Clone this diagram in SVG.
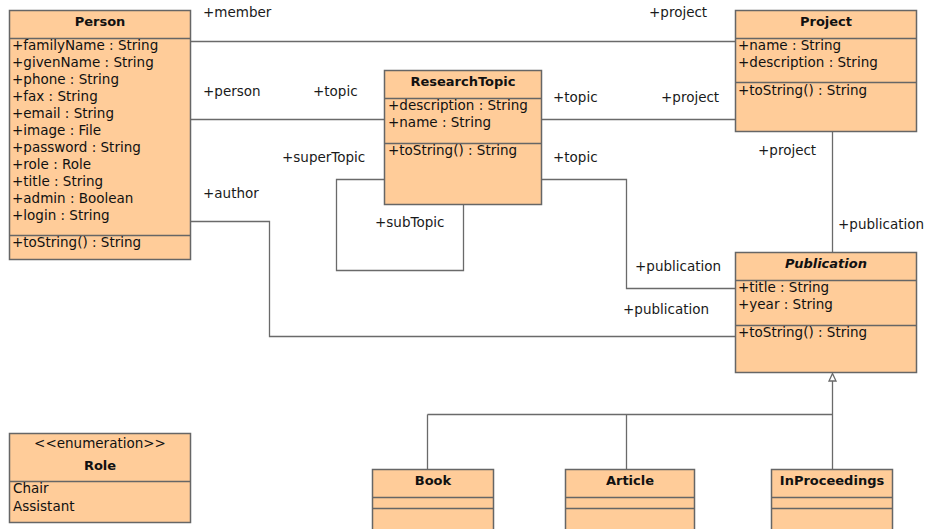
<svg xmlns="http://www.w3.org/2000/svg" width="926" height="529" viewBox="0 0 926 529">
  <style>
    .box { fill: #ffcc99; stroke: #666666; stroke-width: 1.5; }
    .sep { stroke: #666666; stroke-width: 1.5; fill: none; }
    .edge { stroke: #6a6a6a; stroke-width: 1.3; fill: none; }
    .head { fill: #ffffff; stroke: #6a6a6a; stroke-width: 1.3; }
    text { font-family: "DejaVu Sans", "Liberation Sans", sans-serif; font-size: 13.5px; fill: #111111; }
    .title { font-size: 13px; font-weight: bold; text-anchor: middle; }
    .abstract { font-style: italic; }
    .mid { text-anchor: middle; }
    .role { fill: #1a1a1a; }
  </style>

  <!-- associations and generalization -->
  <g id="connectors">
    <path class="edge" d="M191 41.5 H735"/>
    <path class="edge" d="M191 119.5 H384"/>
    <path class="edge" d="M542 119.5 H735"/>
    <path class="edge" d="M384 179.5 H336.5 V270.5 H463.5 V204"/>
    <path class="edge" d="M542 179.5 H626.5 V288.5 H735"/>
    <path class="edge" d="M191 221.5 H269.5 V336.5 H735"/>
    <path class="edge" d="M832.5 131 V252"/>
    <path class="edge" d="M832.5 381 V414.5 M427.5 414.5 H832.5 M427.5 414.5 V469 M626.5 414.5 V469 M832.5 414.5 V469"/>
    <path class="head" d="M832.5 373.5 L829 381 L836 381 Z"/>

    <text class="role" x="203" y="17">+member</text>
    <text class="role" x="649" y="17">+project</text>
    <text class="role" x="203" y="96">+person</text>
    <text class="role" x="313" y="96">+topic</text>
    <text class="role" x="553" y="102">+topic</text>
    <text class="role" x="661" y="102">+project</text>
    <text class="role" x="282" y="162">+superTopic</text>
    <text class="role" x="553" y="162">+topic</text>
    <text class="role" x="758" y="155">+project</text>
    <text class="role" x="203" y="198">+author</text>
    <text class="role" x="375" y="227">+subTopic</text>
    <text class="role" x="838" y="229">+publication</text>
    <text class="role" x="635" y="271">+publication</text>
    <text class="role" x="623" y="314">+publication</text>
  </g>

  <g id="person">
    <rect class="box" x="9.5" y="10.5" width="181" height="249"/>
    <path class="sep" d="M9.5 38.5 H190.5 M9.5 235.5 H190.5"/>
    <text class="title" x="100" y="26">Person</text>
    <text x="12" y="50">+familyName : String</text>
    <text x="12" y="67">+givenName : String</text>
    <text x="12" y="84">+phone : String</text>
    <text x="12" y="101">+fax : String</text>
    <text x="12" y="118">+email : String</text>
    <text x="12" y="135">+image : File</text>
    <text x="12" y="152">+password : String</text>
    <text x="12" y="169">+role : Role</text>
    <text x="12" y="186">+title : String</text>
    <text x="12" y="203">+admin : Boolean</text>
    <text x="12" y="220">+login : String</text>
    <text x="12" y="247">+toString() : String</text>
  </g>

  <g id="researchTopic">
    <rect class="box" x="384.5" y="70.5" width="157" height="134"/>
    <path class="sep" d="M384.5 98.5 H541.5 M384.5 143.5 H541.5"/>
    <text class="title" x="463" y="86">ResearchTopic</text>
    <text x="388" y="110">+description : String</text>
    <text x="388" y="127">+name : String</text>
    <text x="388" y="155">+toString() : String</text>
  </g>

  <g id="project">
    <rect class="box" x="735.5" y="10.5" width="181" height="121"/>
    <path class="sep" d="M735.5 38.5 H916.5 M735.5 82.5 H916.5"/>
    <text class="title" x="826" y="26">Project</text>
    <text x="738" y="50">+name : String</text>
    <text x="738" y="67">+description : String</text>
    <text x="738" y="95">+toString() : String</text>
  </g>

  <g id="publication">
    <rect class="box" x="735.5" y="252.5" width="181" height="120"/>
    <path class="sep" d="M735.5 280.5 H916.5 M735.5 325.5 H916.5"/>
    <text class="title abstract" x="826" y="268">Publication</text>
    <text x="738" y="292">+title : String</text>
    <text x="738" y="309">+year : String</text>
    <text x="738" y="337">+toString() : String</text>
  </g>

  <g id="role">
    <rect class="box" x="9.5" y="433.5" width="181" height="89"/>
    <path class="sep" d="M9.5 481.5 H190.5"/>
    <text class="mid" x="100" y="448">&lt;&lt;enumeration&gt;&gt;</text>
    <text class="title" x="100" y="470">Role</text>
    <text x="13" y="493">Chair</text>
    <text x="13" y="511">Assistant</text>
  </g>

  <g id="book">
    <rect class="box" x="372.5" y="469.5" width="121" height="70"/>
    <path class="sep" d="M372.5 497.5 H493.5 M372.5 508.5 H493.5"/>
    <text class="title" x="433" y="485">Book</text>
  </g>

  <g id="article">
    <rect class="box" x="565.5" y="469.5" width="129" height="70"/>
    <path class="sep" d="M565.5 497.5 H694.5 M565.5 508.5 H694.5"/>
    <text class="title" x="630" y="485">Article</text>
  </g>

  <g id="inProceedings">
    <rect class="box" x="771.5" y="469.5" width="121" height="70"/>
    <path class="sep" d="M771.5 497.5 H892.5 M771.5 508.5 H892.5"/>
    <text class="title" x="832" y="485">InProceedings</text>
  </g>
</svg>
